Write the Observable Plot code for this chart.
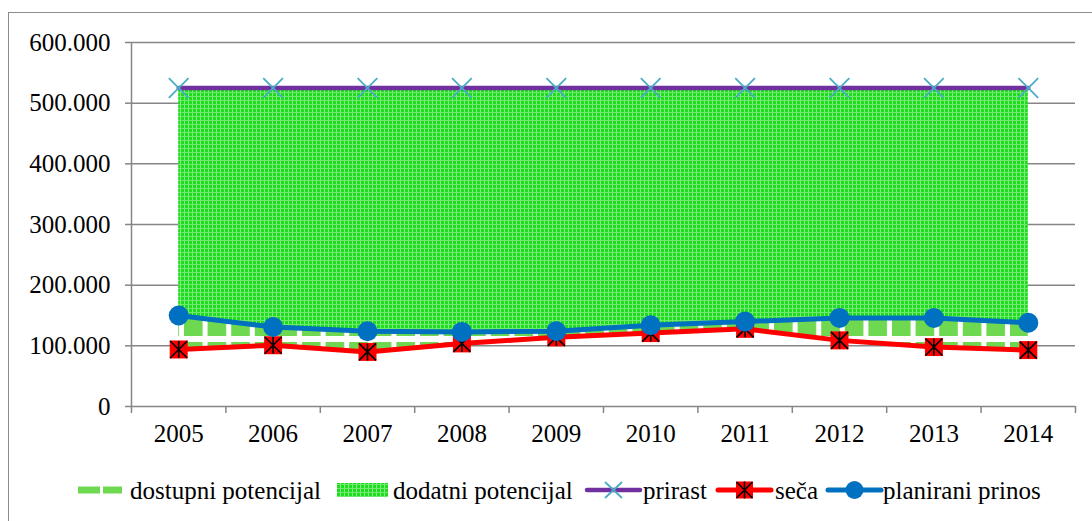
<!DOCTYPE html>
<html>
<head>
<meta charset="utf-8">
<script src="https://cdn.jsdelivr.net/npm/d3@7"></script>
<script src="https://cdn.jsdelivr.net/npm/@observablehq/plot@0.6"></script>
<style>
  html, body { margin: 0; padding: 0; background: white; }
  #wrap { position: relative; width: 1092px; height: 521px; overflow: hidden; font-family: "Liberation Serif", Times, "Times New Roman", Tinos, "Nimbus Roman", "Nimbus Roman No9 L", FreeSerif, "DejaVu Serif", "Noto Serif", serif; }
  #wrap svg, #wrap svg text { font-family: inherit !important; }
  #frame { position: absolute; left: 8px; top: 12px; width: 1200px; height: 600px; border-left: 1.5px solid #8c8c8c; border-top: 1.5px solid #8c8c8c; box-sizing: border-box; }
  #chart { position: absolute; left: 0; top: 0; }
  #legend { position: absolute; left: 0; top: 460px; }
</style>
</head>
<body>
<div id="wrap"><div id="frame"></div><div id="chart"></div><div id="legend"></div></div>
<script>
// ---- data ----
const years = [2005, 2006, 2007, 2008, 2009, 2010, 2011, 2012, 2013, 2014];
const prirast = [525000, 525000, 525000, 525000, 525000, 525000, 525000, 525000, 525000, 525000];
const seca = [94000, 101000, 90000, 104000, 114000, 121000, 128000, 109000, 98000, 93000];
const planiraniPrinos = [150000, 131000, 124000, 123000, 124000, 134000, 140000, 146000, 146000, 138000];
const yTicks = [0, 100000, 200000, 300000, 400000, 500000, 600000];
const seriesNames = ["dostupni potencijal", "dodatni potencijal", "prirast", "seča", "planirani prinos"];

const rows = years.map((year, i) => ({year, prirast: prirast[i], seca: seca[i], prinos: planiraniPrinos[i]}));
const bounds = [years[0] - 0.5, ...years.map(y => y + 0.5)];

const fmt = d => d === 0 ? "0" : d3.format(",")(d).replace(/,/g, ".");
const grey = "#868686";
const cPurple = "#7030a0", cRed = "#ff0000", cBlue = "#0070c0", cTeal = "#4bacc6", cLight = "#6ed950";
const serifFont = '"Liberation Serif", Times, "Times New Roman", Tinos, "Nimbus Roman", FreeSerif, "DejaVu Serif", "Noto Serif", serif';

const starSquare = {
  draw(ctx, size) {
    const h = Math.sqrt(size / Math.PI);
    ctx.moveTo(-h, -h); ctx.lineTo(h, h);
    ctx.moveTo(h, -h); ctx.lineTo(-h, h);
    ctx.moveTo(0, -h); ctx.lineTo(0, h);
  }
};

const chart = Plot.plot({
  width: 1092,
  height: 460,
  marginLeft: 131,
  marginRight: 17,
  marginTop: 42,
  marginBottom: 54,
  x: {domain: [years[0] - 0.5, years[years.length - 1] + 0.5]},
  y: {domain: [0, 600000]},
  style: {fontFamily: serifFont, fontSize: "25px", background: "transparent", color: "black"},
  marks: [
    Plot.ruleY(yTicks.filter(d => d > 0), {stroke: grey, strokeWidth: 1.5}),
    Plot.areaY(rows, {x: "year", y1: "prinos", y2: "prirast", fill: "url(#pDodatni)"}),
    Plot.areaY(rows, {x: "year", y1: "seca", y2: "prinos", fill: "url(#pDostupni)"}),
    Plot.ruleX([bounds[0]], {stroke: grey, strokeWidth: 1.5}),
    Plot.ruleY([0], {stroke: grey, strokeWidth: 1.5}),
    Plot.axisY({ticks: yTicks, tickSize: 6, tickPadding: 15, tickFormat: fmt, stroke: grey, fill: "black", label: null, strokeWidth: 1.5}),
    Plot.axisX({ticks: bounds, tickSize: 7, tickFormat: () => "", stroke: grey, label: null, strokeWidth: 1.5}),
    Plot.axisX({ticks: years, tickSize: 0, tickPadding: 18, tickFormat: d => String(d), fill: "black", label: null}),
    Plot.line(rows, {x: "year", y: "prirast", stroke: cPurple, strokeWidth: 4.5}),
    Plot.dot(rows, {x: "year", y: "prirast", symbol: "times", r: 9, stroke: cTeal, strokeWidth: 1.8}),
    Plot.line(rows, {x: "year", y: "seca", stroke: cRed, strokeWidth: 5}),
    Plot.dot(rows, {x: "year", y: "seca", symbol: "square", r: 9 * 1.128, fill: cRed, stroke: "none"}),
    Plot.dot(rows, {x: "year", y: "seca", symbol: starSquare, r: 8.5, stroke: "black", strokeWidth: 1.6}),
    Plot.line(rows, {x: "year", y: "prinos", stroke: cBlue, strokeWidth: 5}),
    Plot.dot(rows, {x: "year", y: "prinos", r: 10, fill: cBlue, stroke: "none"})
  ]
});

const defsHtml = `
<pattern id="pDostupni" patternUnits="userSpaceOnUse" x="184" y="342" width="23.6" height="23">
  <rect width="23.6" height="23" fill="white"/>
  <rect width="18.6" height="17" fill="${cLight}"/>
</pattern>
<pattern id="pDodatni" patternUnits="userSpaceOnUse" width="4" height="4">
  <rect width="4" height="4" fill="#1fdc1f"/>
  <rect width="1" height="4" fill="#86ee86"/>
  <rect width="4" height="1" fill="#70e870"/>
</pattern>`;
const ns = "http://www.w3.org/2000/svg";
const defs = document.createElementNS(ns, "defs");
defs.innerHTML = defsHtml;
chart.insertBefore(defs, chart.firstChild);
document.getElementById("chart").appendChild(chart);

// ---- legend ----
const L = d3.select("#legend").append("svg").attr("width", 1092).attr("height", 61)
  .style("font-size", "25px");
const ly = 30;
L.append("defs").html(`<pattern id="pDodatniL" patternUnits="userSpaceOnUse" width="4" height="4">
  <rect width="4" height="4" fill="#1fdc1f"/><rect width="1" height="4" fill="#86ee86"/><rect width="4" height="1" fill="#70e870"/></pattern>`);
L.append("rect").attr("x", 78).attr("y", ly - 3.5).attr("width", 22).attr("height", 7).attr("fill", cLight);
L.append("rect").attr("x", 103).attr("y", ly - 3.5).attr("width", 19).attr("height", 7).attr("fill", cLight);
L.append("rect").attr("x", 337).attr("y", ly - 7).attr("width", 51).attr("height", 14).attr("fill", "url(#pDodatniL)");
L.append("line").attr("x1", 587).attr("x2", 640).attr("y1", ly).attr("y2", ly).attr("stroke", cPurple).attr("stroke-width", 4.5).attr("stroke-linecap", "round");
L.append("path").attr("d", "M605,22L622,38M622,22L605,38").attr("stroke", cTeal).attr("stroke-width", 1.8);
L.append("line").attr("x1", 718).attr("x2", 771).attr("y1", ly).attr("y2", ly).attr("stroke", cRed).attr("stroke-width", 5).attr("stroke-linecap", "round");
L.append("rect").attr("x", 736).attr("y", ly - 8.5).attr("width", 17).attr("height", 17).attr("fill", cRed);
L.append("path").attr("d", "M736.5,22L752.5,38M752.5,22L736.5,38M744.5,21.5L744.5,38.5").attr("stroke", "black").attr("stroke-width", 1.6);
L.append("line").attr("x1", 828).attr("x2", 881).attr("y1", ly).attr("y2", ly).attr("stroke", cBlue).attr("stroke-width", 5).attr("stroke-linecap", "round");
L.append("circle").attr("cx", 854.5).attr("cy", ly).attr("r", 9).attr("fill", cBlue);
const textX = [130, 393, 643, 775, 883];
seriesNames.forEach((n, i) => {
  L.append("text").attr("x", textX[i]).attr("y", ly).attr("dy", "0.35em").attr("fill", "black").text(n);
});
</script>
</body>
</html>
